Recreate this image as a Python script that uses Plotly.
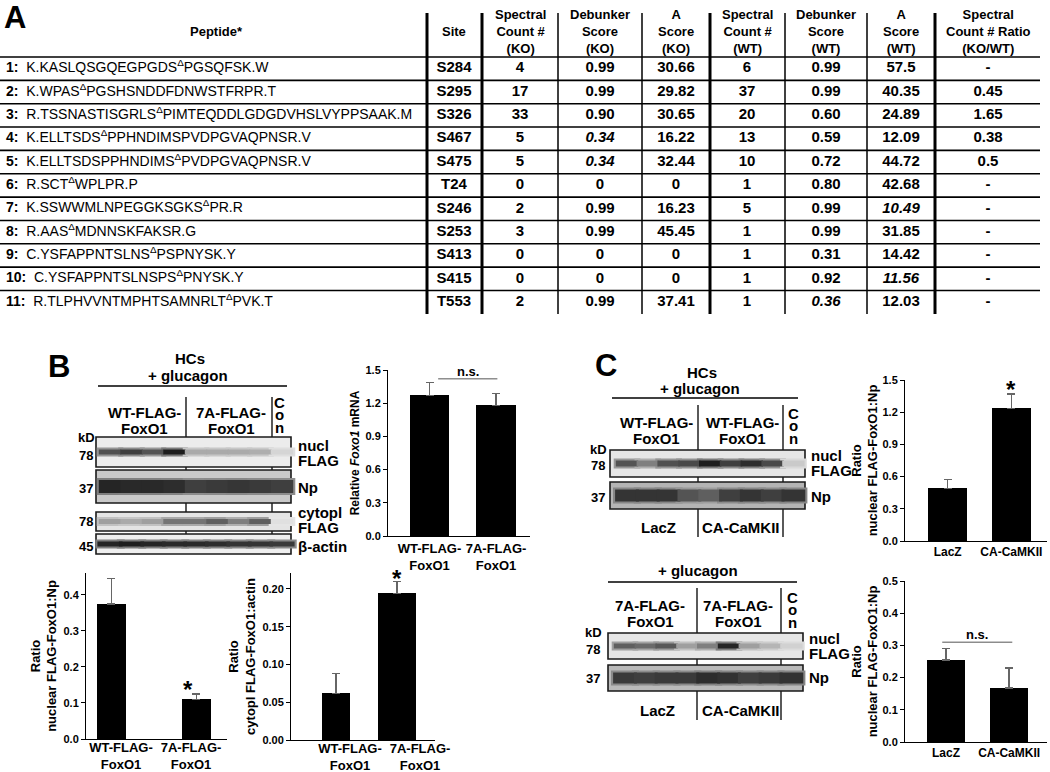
import plotly.graph_objects as go

W, H = 1050, 772
FONT = "Arial, 'Liberation Sans', Helvetica, sans-serif"

# ---------------- Panel A: phosphopeptide table ----------------
peptides = [
    "K.KASLQSGQEGPGDS^PGSQFSK.W",
    "K.WPAS^PGSHSNDDFDNWSTFRPR.T",
    "R.TSSNASTISGRLS^PIMTEQDDLGDGDVHSLVYPPSAAK.M",
    "K.ELLTSDS^PPHNDIMSPVDPGVAQPNSR.V",
    "K.ELLTSDSPPHNDIMS^PVDPGVAQPNSR.V",
    "R.SCT^WPLPR.P",
    "K.SSWWMLNPEGGKSGKS^PR.R",
    "R.AAS^MDNNSKFAKSR.G",
    "C.YSFAPPNTSLNS^PSPNYSK.Y",
    "C.YSFAPPNTSLNSPS^PNYSK.Y",
    "R.TLPHVVNTMPHTSAMNRLT^PVK.T",
]
sites = ["S284", "S295", "S326", "S467", "S475", "T24", "S246", "S253", "S413", "S415", "T553"]
spec_ko = ["4", "17", "33", "5", "5", "0", "2", "3", "0", "0", "2"]
debunk_ko = ["0.99", "0.99", "0.90", "0.34", "0.34", "0", "0.99", "0.99", "0", "0", "0.99"]
ascore_ko = ["30.66", "29.82", "30.65", "16.22", "32.44", "0", "16.23", "45.45", "0", "0", "37.41"]
spec_wt = ["6", "37", "20", "13", "10", "1", "5", "1", "1", "1", "1"]
debunk_wt = ["0.99", "0.99", "0.60", "0.59", "0.72", "0.80", "0.99", "0.99", "0.31", "0.92", "0.36"]
ascore_wt = ["57.5", "40.35", "24.89", "12.09", "44.72", "42.68", "10.49", "31.85", "14.42", "11.56", "12.03"]
ratio_ko_wt = ["-", "0.45", "1.65", "0.38", "0.5", "-", "-", "-", "-", "-", "-"]
italic_cells = {("debunk_ko", 3), ("debunk_ko", 4), ("ascore_wt", 6),
                ("ascore_wt", 9), ("debunk_wt", 10)}
headers = ["Peptide*", "Site", "Spectral<br>Count #<br>(KO)", "Debunker<br>Score<br>(KO)",
           "A<br>Score<br>(KO)", "Spectral<br>Count #<br>(WT)", "Debunker<br>Score<br>(WT)",
           "A<br>Score<br>(WT)", "Spectral<br>Count # Ratio<br>(KO/WT)"]

# ---------------- Panels B / C: bar charts ----------------
foxo_groups = ["WT-FLAG-<br>FoxO1", "7A-FLAG-<br>FoxO1"]
mrna_mean = [1.27, 1.18]
mrna_sem = [0.12, 0.11]
nucl_b_mean = [0.375, 0.11]
nucl_b_sem = [0.07, 0.015]
cyto_b_mean = [0.062, 0.194]
cyto_b_sem = [0.026, 0.016]
camk_groups = ["LacZ", "CA-CaMKII"]
nucl_wt_mean = [0.49, 1.235]
nucl_wt_sem = [0.085, 0.135]
nucl_7a_mean = [0.255, 0.168]
nucl_7a_sem = [0.035, 0.062]

# ---------------- western blot band intensities (0 blank .. 1 dark), 4 + 4 + Con lanes
b_nucl_flag = [0.72, 0.8, 0.7, 0.95, 0.3, 0.3, 0.3, 0.28, 0.1]
b_np = [0.92, 0.9, 0.9, 0.88, 0.8, 0.82, 0.84, 0.82, 0.8]
b_cyto_flag = [0.35, 0.3, 0.35, 0.55, 0.55, 0.65, 0.5, 0.65, 0.05]
b_actin = [0.92, 0.95, 0.92, 0.9, 0.9, 0.88, 0.85, 0.85, 0.82]
c_wt_flag = [0.7, 0.5, 0.72, 0.75, 0.95, 0.8, 0.88, 0.75, 0.15]
c_wt_np = [0.85, 0.85, 0.85, 0.7, 0.65, 0.8, 0.85, 0.8, 0.85]
c_7a_flag = [0.65, 0.6, 0.68, 0.35, 0.5, 0.92, 0.35, 0.25, 0.12]
c_7a_np = [0.82, 0.8, 0.82, 0.82, 0.88, 0.86, 0.8, 0.82, 0.86]


def dom_x(a, b):
    return [a / W, b / W]


def dom_y(top, bottom):
    return [1 - bottom / H, 1 - top / H]


def gray(v, lo=20, hi=235):
    g = int(hi - (hi - lo) * v)
    return f"rgb({g},{g},{g})"


fig = go.Figure()
shapes = []
annotations = []
layout_axes = {}

# ---------------- table (xaxis / yaxis: x in page px, y in rows) ----------------
ROW0, ROWH, TOP, BOT = 57, 23.35, 13, 314
layout_axes["xaxis"] = dict(domain=[0, 1], range=[0, W], visible=False, fixedrange=True)
layout_axes["yaxis"] = dict(domain=dom_y(TOP, BOT), visible=False, fixedrange=True,
                            range=[-0.5 + (BOT - ROW0) / ROWH, -0.5 - (ROW0 - TOP) / ROWH])
rows = list(range(len(peptides)))
NB = "\u00a0"
pep_text = [f"<b>{i + 1}:</b>{NB * 2}" + p.replace("^", "<sup>Δ</sup>") for i, p in enumerate(peptides)]
fig.add_trace(go.Scatter(x=[6] * len(rows), y=rows, text=pep_text, mode="text",
                         textposition="middle right", hoverinfo="skip", showlegend=False,
                         textfont=dict(family=FONT, size=14, color="black")))
columns = [("sites", sites, 454), ("spec_ko", spec_ko, 520), ("debunk_ko", debunk_ko, 600),
           ("ascore_ko", ascore_ko, 676), ("spec_wt", spec_wt, 747), ("debunk_wt", debunk_wt, 826),
           ("ascore_wt", ascore_wt, 901), ("ratio", ratio_ko_wt, 988)]
for name, vals, cx in columns:
    txt = [f"<i>{v}</i>" if (name, i) in italic_cells else v for i, v in enumerate(vals)]
    fig.add_trace(go.Scatter(x=[cx] * len(vals), y=rows, text=txt, mode="text",
                             textposition="middle center", hoverinfo="skip", showlegend=False,
                             textfont=dict(family=FONT, size=15, color="black", weight="bold")))
head_x = [216] + [c[2] for c in columns]
for hx, ht in zip(head_x, headers):
    annotations.append(dict(x=hx, y=-1.6, xref="x", yref="y", text=f"<b>{ht}</b>", showarrow=False,
                            xanchor="center", yanchor="middle",
                            font=dict(family=FONT, size=13, color="black")))
for i in range(len(peptides)):
    shapes.append(dict(type="line", xref="x", yref="y", x0=0, x1=1040, y0=i - 0.5, y1=i - 0.5,
                       line=dict(color="black", width=1.6)))
for vx, lw in [(427, 3), (482, 3), (558, 1.5), (642, 1.5), (710, 3), (785, 1.5), (867, 1.5), (935, 3)]:
    shapes.append(dict(type="line", xref="x", yref="y domain", x0=vx, x1=vx, y0=0, y1=1,
                       line=dict(color="black", width=lw)))

# ---------------- bar charts ----------------
bar_specs = [
    # axis no, groups, mean, sem, x px, y px (top, bottom), x range, y range, dtick, fmt,
    # bar widths, bar offsets (category units), title
    (2, foxo_groups, mrna_mean, mrna_sem, (388, 530), (370, 536), [-0.624, 1.51], [0, 1.5], 0.3, ".1f",
     [0.59, 0.59], [-0.295, -0.295], "Relative <i>Foxo1</i> mRNA"),
    (3, foxo_groups, nucl_b_mean, nucl_b_sem, (86, 227), (573, 739), [-0.5, 1.514], [0, 0.461], 0.1, ".1f",
     [0.414, 0.414], [-0.343, -0.129], "Ratio<br>nuclear FLAG-FoxO1:Np"),
    (4, foxo_groups, cyto_b_mean, cyto_b_sem, (291, 435), (573, 740), [-0.843, 1.214], [0, 0.221], 0.05, ".2f",
     [0.4, 0.54], [-0.4, -0.6], "Ratio<br>cytopl FLAG-FoxO1:actin"),
    (5, camk_groups, nucl_wt_mean, nucl_wt_sem, (905, 1047), (380, 541), [-0.67, 1.56], [0, 1.5], 0.3, ".1f",
     [0.61, 0.61], [-0.305, -0.305], "Ratio<br>nuclear FLAG-FoxO1:Np"),
    (6, camk_groups, nucl_7a_mean, nucl_7a_sem, (905, 1047), (581, 742), [-0.65, 1.6], [0, 0.5], 0.1, ".1f",
     [0.6, 0.6], [-0.3, -0.3], "Ratio<br>nuclear FLAG-FoxO1:Np"),
]
for n, groups, mean, sem, xpx, ypx, xr, yr, dt, fmt, bws, offs, title in bar_specs:
    fig.add_trace(go.Bar(x=groups, y=mean, width=bws, offset=offs,
                         marker=dict(color="black", line=dict(width=0)),
                         error_y=dict(type="data", array=sem, arrayminus=[0] * len(sem), symmetric=False,
                                      color="#666666", thickness=1.3, width=4),
                         xaxis=f"x{n}", yaxis=f"y{n}", hoverinfo="skip", showlegend=False))
    layout_axes[f"xaxis{n}"] = dict(domain=dom_x(*xpx), range=xr, anchor=f"y{n}", type="category",
                                    showline=True, linecolor="black", linewidth=1, ticks="",
                                    tickangle=0, showgrid=False, zeroline=False, fixedrange=True,
                                    ticklabelstandoff=-4 if n in (3, 4) else 0,
                                    tickfont=dict(family=FONT, size=13 if n < 5 else 12, color="black",
                                                  weight="bold"))
    layout_axes[f"yaxis{n}"] = dict(domain=dom_y(*ypx), range=yr, anchor=f"x{n}", dtick=dt, tick0=0,
                                    tickformat=fmt, showline=True, linecolor="black", linewidth=1,
                                    ticks="outside", ticklen=4, tickcolor="black", showgrid=False,
                                    zeroline=False, fixedrange=True,
                                    tickfont=dict(family=FONT, size=11, color="black", weight="bold"),
                                    title=dict(text=title, standoff=1 if n >= 5 else 3,
                                               font=dict(family=FONT, size=13 if n != 2 else 12,
                                                         color="black", weight="bold")))


def sig_star(n, x, y, shift=-5):
    annotations.append(dict(x=x, y=y, xref=f"x{n}", yref=f"y{n}", text="<b>*</b>", showarrow=False,
                            font=dict(family=FONT, size=24, color="black"), yshift=shift))


def sig_ns(n, x0, x1, y, ty):
    shapes.append(dict(type="line", xref=f"x{n}", yref=f"y{n}", x0=x0, x1=x1, y0=y, y1=y,
                       line=dict(color="#555555", width=1)))
    annotations.append(dict(x=(x0 + x1) / 2, y=ty, xref=f"x{n}", yref=f"y{n}", text="<b>n.s.</b>",
                            showarrow=False, font=dict(family=FONT, size=13, color="black")))


sig_ns(2, 0.13, 1.02, 1.42, 1.485)
sig_star(3, 0.95, 0.15)
sig_star(4, 0.67, 0.215, shift=-1)
sig_star(5, 1, 1.46)
sig_ns(6, -0.06, 1.05, 0.31, 0.335)

# ---------------- blots and labels on a page-pixel canvas (x7 / y7) ----------------
layout_axes["xaxis7"] = dict(domain=[0, 1], range=[0, W], visible=False, fixedrange=True, anchor="y7")
layout_axes["yaxis7"] = dict(domain=[0, 1], range=[H, 0], visible=False, fixedrange=True, anchor="x7")


def label(x, y, text, size=15, anchor="center"):
    annotations.append(dict(x=x, y=y, xref="x7", yref="y7", text=f"<b>{text}</b>", showarrow=False,
                            xanchor=anchor, yanchor="middle",
                            font=dict(family=FONT, size=size, color="black")))


def hline(x0, x1, y, w=1.3):
    shapes.append(dict(type="line", xref="x7", yref="y7", x0=x0, x1=x1, y0=y, y1=y, layer="below",
                       line=dict(color="black", width=w)))


def vline(x, y0, y1, w=1.3):
    shapes.append(dict(type="line", xref="x7", yref="y7", x0=x, x1=x, y0=y0, y1=y1, layer="below",
                       line=dict(color="black", width=w)))


def blot(x0, x1, top, bot, lanes, vals, bg, th, bw):
    shapes.append(dict(type="rect", xref="x7", yref="y7", x0=x0, x1=x1, y0=top, y1=bot, layer="below",
                       fillcolor=bg, line=dict(color="#1a1a1a", width=1.6)))
    yc = (top + bot) / 2
    halo = [gray(v * 0.55, hi=235) for v in vals]
    core = [gray(v) for v in vals]
    fig.add_trace(go.Scatter(x=lanes, y=[yc] * len(vals), mode="markers", xaxis="x7", yaxis="y7",
                             hoverinfo="skip", showlegend=False,
                             marker=dict(symbol="line-ew", size=bw + 3, color=halo,
                                         line=dict(color=halo, width=th + 4))))
    fig.add_trace(go.Scatter(x=lanes, y=[yc] * len(vals), mode="markers", xaxis="x7", yaxis="y7",
                             hoverinfo="skip", showlegend=False,
                             marker=dict(symbol="line-ew", size=bw, color=core,
                                         line=dict(color=core, width=th))))


def con_label(x, y):
    for k, ch in enumerate("Con"):
        label(x, y + 12.5 * k, ch, size=15)


# panel letters
label(15, 17, "A", size=31)
label(59, 366, "B", size=31)
label(606, 365, "C", size=31)

# panel B blot
lanes_b = [110 + 21.5 * i for i in range(9)]
label(190, 358, "HCs")
label(188, 375, "+ glucagon")
hline(98, 287, 386)
label(144, 412, "WT-FLAG-")
label(144, 428, "FoxO1")
label(231, 412, "7A-FLAG-")
label(231, 428, "FoxO1")
con_label(279, 402)
vline(186, 397, 554)
vline(272, 397, 554)
label(86, 437, "kD", size=13)
label(86, 455, "78", size=13)
label(86, 488, "37", size=13)
label(86, 521, "78", size=13)
label(86, 546, "45", size=13)
blot(96, 291, 437, 467, lanes_b, b_nucl_flag, "#ececec", 5, 16)
blot(96, 291, 470, 503, lanes_b, b_np, "#c9c9c9", 13, 16)
blot(96, 291, 512, 531, lanes_b, b_cyto_flag, "#e4e4e4", 5, 16)
blot(96, 291, 534, 554, lanes_b, b_actin, "#efefef", 5, 18)
label(296, 445, "nucl", anchor="left")
label(296, 460, "FLAG", anchor="left")
label(296, 487, "Np", anchor="left")
label(296, 512, "cytopl", anchor="left")
label(296, 527, "FLAG", anchor="left")
label(296, 546, "β-actin", anchor="left")

# panel C, WT FoxO1 blot
lanes_c = [627 + 20.8 * i for i in range(9)]
label(702, 372, "HCs")
label(700, 388, "+ glucagon")
hline(612, 798, 398)
label(656, 422, "WT-FLAG-")
label(656, 438, "FoxO1")
label(742, 422, "WT-FLAG-")
label(742, 438, "FoxO1")
con_label(793, 413)
vline(698, 405, 537)
vline(783, 405, 537)
label(598, 449, "kD", size=13)
label(598, 465, "78", size=13)
label(598, 497, "37", size=13)
blot(610, 805, 450, 477, lanes_c, c_wt_flag, "#e6e6e6", 6, 16)
blot(610, 805, 482, 509, lanes_c, c_wt_np, "#b4b4b4", 12, 17)
label(658, 527, "LacZ")
label(741, 527, "CA-CaMKII")
label(809, 455, "nucl", anchor="left")
label(809, 470, "FLAG", anchor="left")
label(809, 496, "Np", anchor="left")

# panel C, 7A FoxO1 blot
lanes_c2 = [625 + 20.8 * i for i in range(9)]
label(698, 570, "+ glucagon")
hline(608, 797, 582)
label(650, 605, "7A-FLAG-")
label(650, 621, "FoxO1")
label(738, 605, "7A-FLAG-")
label(738, 621, "FoxO1")
con_label(792, 597)
vline(697, 588, 720)
vline(781, 588, 720)
label(593, 632, "kD", size=13)
label(593, 649, "78", size=13)
label(593, 678, "37", size=13)
blot(608, 803, 633, 659, lanes_c2, c_7a_flag, "#e6e6e6", 5, 16)
blot(608, 803, 665, 691, lanes_c2, c_7a_np, "#bababa", 11, 17)
label(657, 710, "LacZ")
label(741, 710, "CA-CaMKII")
label(807, 638, "nucl", anchor="left")
label(807, 653, "FLAG", anchor="left")
label(807, 677, "Np", anchor="left")

fig.update_layout(
    width=W, height=H, margin=dict(l=0, r=0, t=0, b=0), template="none",
    paper_bgcolor="white", plot_bgcolor="rgba(0,0,0,0)", showlegend=False,
    font=dict(family=FONT, color="black"), bargap=0,
    shapes=shapes, annotations=annotations, **layout_axes,
)
# the page's default 8px body margin would push the 1050x772 figure off the window
fig.write_html("out.html", config={"displayModeBar": False},
               post_script="document.body.style.margin = '0px';")
